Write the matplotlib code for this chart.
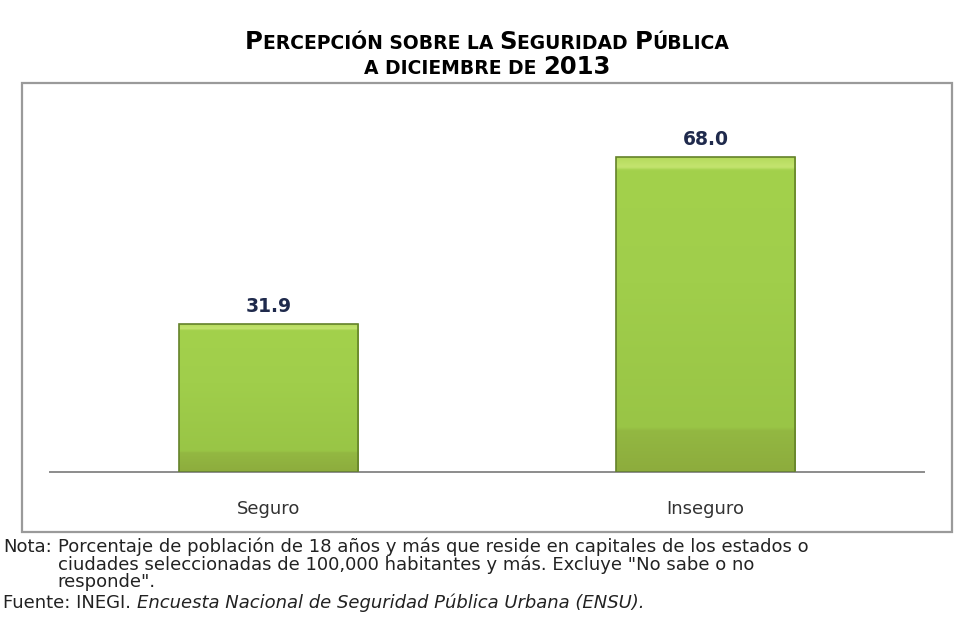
import matplotlib.pyplot as plt
import numpy as np
from matplotlib.patches import Rectangle
from matplotlib.colors import LinearSegmentedColormap

categorias = ["Seguro", "Inseguro"]
valores = [31.9, 68.0]
etiquetas = ["31.9", "68.0"]

titulo_1 = [("P", "g"), ("ERCEPCIÓN SOBRE LA ", "c"), ("S", "g"), ("EGURIDAD ", "c"),
            ("P", "g"), ("ÚBLICA", "c")]
titulo_2 = [("A DICIEMBRE DE ", "c"), ("2013", "g")]

nota = ("Porcentaje de población de 18 años y más que reside en capitales de los estados o\n"
        "ciudades seleccionadas de 100,000 habitantes y más. Excluye \"No sabe o no\n"
        "responde\".")
fuente = ("Fuente: INEGI. ", "Encuesta Nacional de Seguridad Pública Urbana (ENSU).")

fig = plt.figure(figsize=(9.62, 6.17), dpi=100)
W, H = 962, 617
r = fig.canvas.get_renderer()

# marco gris alrededor del grafico
marco = Rectangle((22 / W, 1 - 532 / H), 930 / W, 449 / H, transform=fig.transFigure,
                  fill=False, edgecolor="#9a9a9a", linewidth=1.6)
fig.patches.append(marco)

ax = fig.add_axes([50 / W, 1 - 472 / H, 874 / W, 389 / H])
x = np.arange(len(categorias))
barras = ax.bar(x, valores, width=0.41, color="#9cc94a", linewidth=0, zorder=2)

# degradado dentro de cada barra (abajo mas oscuro, franja clara arriba)
grad = np.linspace(0, 1, 512).reshape(-1, 1)
cmap = LinearSegmentedColormap.from_list(
    "verde", [(0, "#8dac3d"), (0.13, "#93b842"), (0.14, "#99c546"), (0.6, "#a0ce4b"),
              (0.96, "#a3d14c"), (0.97, "#c4e470"), (1, "#b5da5c")])
for b in barras:
    x0, y0 = b.get_x(), b.get_y()
    im = ax.imshow(grad, extent=[x0, x0 + b.get_width(), y0, y0 + b.get_height()], origin="lower",
                   cmap=cmap, aspect="auto", zorder=2.5, interpolation="bilinear")
    im.set_clip_path(b)
    ax.add_patch(Rectangle((x0, y0), b.get_width(), b.get_height(), fill=False,
                           edgecolor="#64822a", linewidth=1.2, zorder=3))

for xi, v, t in zip(x, valores, etiquetas):
    ax.annotate(t, (xi, v), xytext=(0, 6), textcoords="offset points", ha="center", va="bottom",
                fontsize=13.5, color="#1f2a4c", fontweight="bold", family="DejaVu Sans")

ax.set_xlim(-0.5, 1.5)
ax.set_ylim(0, 84)
ax.set_facecolor("none")
for s in ["top", "right", "left"]:
    ax.spines[s].set_visible(False)
ax.spines["bottom"].set_color("#8c8c8c")
ax.spines["bottom"].set_linewidth(1.4)
ax.set_yticks([])
ax.set_xticks(x)
ax.set_xticklabels(categorias, fontsize=13, color="#333333", family="DejaVu Sans")
ax.tick_params(axis="x", length=0, pad=20)


def versalitas(piezas, yc, grande=17.5, chica=13.5):
    """Dibuja el titulo en versalitas: pedazo por pedazo y luego lo centra"""
    textos = []
    xpos = 0
    for s, k in piezas:
        t = fig.text(0, yc, s, fontsize=grande if k == "g" else chica, fontweight="bold",
                     family="DejaVu Sans", va="baseline", ha="left", color="black")
        w = t.get_window_extent(r).width
        textos.append((t, xpos))
        xpos += w
    x_ini = 487 - xpos / 2
    for t, xp in textos:
        t.set_x((x_ini + xp) / W)


versalitas(titulo_1, 1 - 49 / H)
versalitas(titulo_2, 1 - 74 / H)

fs_nota = 13
gris = "#222222"
tn = fig.text(3 / W, 1 - 538 / H, "Nota:", fontsize=fs_nota, family="DejaVu Sans", color=gris,
              va="top")
x_cuerpo = 3 + tn.get_window_extent(r).width + 6
fig.text(x_cuerpo / W, 1 - 537 / H, nota, fontsize=fs_nota, family="DejaVu Sans", color=gris,
         va="top", linespacing=0.98)
t1 = fig.text(3 / W, 1 - 608 / H, fuente[0], fontsize=fs_nota, family="DejaVu Sans", color=gris)
w1 = t1.get_window_extent(r).width
fig.text((3 + w1) / W, 1 - 608 / H, fuente[1], fontsize=fs_nota,
         family="DejaVu Sans", style="italic", color=gris)

fig.savefig("out.png", dpi=100)
